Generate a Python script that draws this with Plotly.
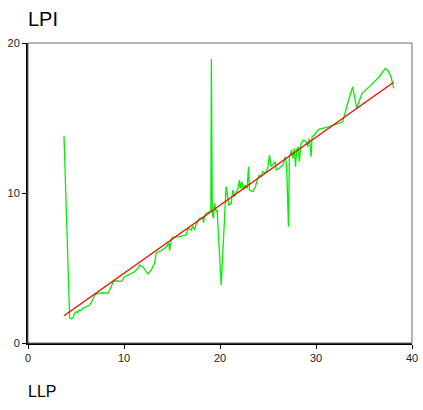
import plotly.graph_objects as go

# LLP (x) and LPI (y) observations, ordered by LLP
llp = [3.75, 4.34, 4.52, 4.68, 4.86, 5.03, 5.20, 5.28, 5.48, 5.72, 6.08, 6.42, 6.76, 6.94,
       7.28, 7.80, 8.32, 8.68, 8.85, 9.20, 9.72, 10.06, 10.41, 10.76, 11.10, 11.45, 11.62,
       12.0, 12.49, 12.84, 13.18, 13.36, 13.88, 14.40, 14.67, 14.75, 14.92, 15.09, 15.79,
       16.48, 16.65, 17.0, 17.17, 17.35, 17.52, 17.87, 18.04, 18.21, 18.28, 18.39, 18.56,
       18.73, 18.91, 19.05, 19.10, 19.20, 19.31, 19.42, 19.60, 19.70, 20.12, 20.64, 20.92,
       21.17, 21.33, 21.51, 21.69, 21.85, 22.03, 22.13, 22.27, 22.45, 22.62, 22.83, 22.97,
       23.07, 23.41, 23.69, 23.93, 24.11, 24.29, 24.45, 24.73, 24.97, 25.15, 25.33, 25.57,
       25.74, 25.85, 26.19, 26.53, 26.82, 26.95, 27.13, 27.23, 27.47, 27.58, 27.75, 27.86,
       27.99, 28.14, 28.27, 28.45, 28.69, 28.97, 29.14, 29.31, 29.49, 29.59, 29.83, 30.07,
       30.28, 31.39, 32.26, 32.78, 33.30, 33.82, 34.24, 34.80, 35.56, 36.60, 37.22, 37.46,
       37.82, 38.09]
lpi = [13.82, 1.67, 1.60, 1.67, 1.98, 2.09, 2.02, 2.20, 2.15, 2.31, 2.42, 2.53, 2.91, 3.20,
       3.31, 3.35, 3.31, 3.75, 4.09, 4.15, 4.09, 4.42, 4.53, 4.65, 4.75, 4.98, 5.20,
       5.05, 4.60, 4.87, 5.31, 6.02, 6.15, 6.42, 6.65, 6.15, 6.91, 7.05, 7.09,
       7.20, 7.65, 7.53, 7.80, 7.53, 7.93, 8.31, 8.31, 8.38, 8.02, 8.42, 8.65,
       8.69, 8.75, 8.80, 18.93, 8.65, 8.31, 9.31, 8.75, 8.87, 3.85, 10.42, 9.20,
       9.31, 10.20, 9.75, 10.09, 10.20, 10.87, 10.31, 10.75, 10.20, 10.53, 10.31, 11.75,
       10.20, 10.09, 10.42, 10.98, 11.20, 11.09, 11.42, 11.31, 11.65, 12.53, 11.75, 11.98,
       12.09, 11.53, 11.65, 11.87, 12.42, 11.65, 7.75, 12.42, 12.87, 12.31, 12.98, 11.75,
       12.87, 13.09, 12.09, 13.31, 13.53, 13.42, 13.09, 13.65, 12.42, 13.75, 13.87, 14.09,
       14.25, 14.42, 14.65, 14.75, 15.98, 17.09, 15.65, 16.65, 17.09, 17.75, 18.31, 18.20,
       17.75, 16.98]

# Fitted LPI over the observed LLP range
fit_x = [3.75, 38.09]
fit_y = [1.82, 17.38]

x_ticks = [0, 10, 20, 30, 40]
y_ticks = [0, 10, 20]

fig = go.Figure()
fig.add_trace(go.Scatter(x=llp, y=lpi, mode="lines",
                         line=dict(color="#00f000", width=1.3), hoverinfo="skip"))
fig.add_trace(go.Scatter(x=fit_x, y=fit_y, mode="lines",
                         line=dict(color="#ff0000", width=1.3), hoverinfo="skip"))

# Thin grey frame on top/right; heavier black axes on left/bottom
fig.add_shape(type="rect", xref="paper", yref="paper", x0=0, y0=0, x1=1, y1=1,
              line=dict(color="#6a6a6a", width=1), layer="above")

axis_font = dict(family="Liberation Sans, Arial, sans-serif", size=11, color="#222222")
fig.update_xaxes(range=[0, 40], tickvals=x_ticks, ticks="outside", ticklen=4,
                 tickwidth=1, tickcolor="black", showline=True, linecolor="black",
                 linewidth=2, showgrid=False, zeroline=False, tickfont=axis_font,
                 automargin=False)
fig.update_yaxes(range=[0, 20], tickvals=y_ticks, ticks="outside", ticklen=4,
                 tickwidth=1, tickcolor="black", showline=True, linecolor="black",
                 linewidth=2, showgrid=False, zeroline=False, tickfont=axis_font,
                 automargin=False)

fig.add_annotation(text="LPI", xref="paper", yref="paper", x=-0.004, y=1.08,
                   xanchor="left", yanchor="middle", showarrow=False,
                   font=dict(family="Liberation Sans, Arial, sans-serif", size=20, color="black"))
fig.add_annotation(text="LLP", xref="paper", yref="paper", x=-0.004, y=-0.163,
                   xanchor="left", yanchor="middle", showarrow=False,
                   font=dict(family="Liberation Sans, Arial, sans-serif", size=16, color="black"))

fig.update_layout(width=423, height=410, showlegend=False,
                  margin=dict(l=28, r=11, t=43, b=67),
                  plot_bgcolor="white", paper_bgcolor="white")

fig.write_html("out.html")
